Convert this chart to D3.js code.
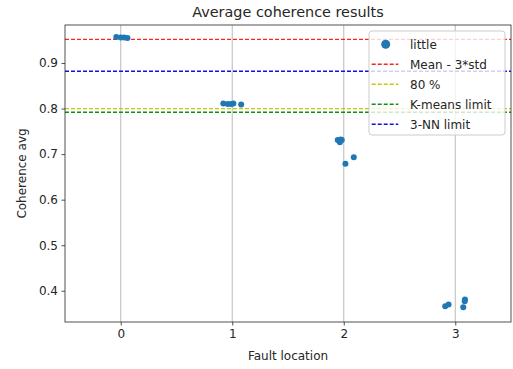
<!DOCTYPE html>
<html>
<head>
<meta charset="utf-8">
<script src="https://cdn.jsdelivr.net/npm/d3@7"></script>
<style>
  body { margin: 0; background: #fff; }
  text { font-family: "DejaVu Sans", sans-serif; fill: #262626; }
</style>
</head>
<body>
<div id="chart"></div>
<script>
// strip plot of average coherence per fault location

const faultLocations = [0, 1, 2, 3];
const yTicks = [0.4, 0.5, 0.6, 0.7, 0.8, 0.9];

// jittered x position (in fault-location units) and coherence of each sample
const sampleX = [-0.04, 0.0, 0.03, 0.06,
                 0.92, 0.96, 0.99, 1.01, 1.08,
                 1.946, 1.973, 1.982, 1.965, 2.015, 2.09,
                 2.91, 2.94, 3.072, 3.087, 3.085];
const coherence = [0.957, 0.956, 0.956, 0.955,
                   0.811, 0.810, 0.810, 0.811, 0.809,
                   0.731, 0.732, 0.731, 0.726, 0.679, 0.693,
                   0.366, 0.370, 0.364, 0.381, 0.377];

const limitNames = ["Mean - 3*std", "80 %", "K-means limit", "3-NN limit"];
const limitValues = [0.952, 0.80, 0.792, 0.882];
const limitColors = ["#ff2020", "#c8c800", "#109010", "#1010e0"];

const width = 513, height = 369;
const margin = { top: 25, right: 2, bottom: 47, left: 65 };
const w = width - margin.left - margin.right;
const h = height - margin.top - margin.bottom;

const svg = d3.select("#chart").append("svg")
    .attr("width", width)
    .attr("height", height);

const g = svg.append("g")
    .attr("transform", `translate(${margin.left}, ${margin.top})`);

const x = d3.scaleLinear().domain([-0.5, 3.5]).range([0, w]);
const y = d3.scaleLinear().domain([0.3314, 0.9835]).range([h, 0]);

// vertical grid
g.selectAll(".grid")
    .data(faultLocations)
    .join("line")
    .attr("class", "grid")
    .attr("x1", d => x(d)).attr("x2", d => x(d))
    .attr("y1", 0).attr("y2", h)
    .attr("stroke", "#c0c0c0")
    .attr("stroke-width", 1.1);

// limit lines
g.selectAll(".limit")
    .data(limitValues)
    .join("line")
    .attr("class", "limit")
    .attr("x1", 0).attr("x2", w)
    .attr("y1", d => y(d)).attr("y2", d => y(d))
    .attr("stroke", (d, i) => limitColors[i])
    .attr("stroke-width", 1.4)
    .attr("stroke-dasharray", "4,2");

// samples
g.selectAll(".dot")
    .data(coherence)
    .join("circle")
    .attr("class", "dot")
    .attr("cx", (d, i) => x(sampleX[i]))
    .attr("cy", d => y(d))
    .attr("r", 3)
    .attr("fill", "#1f77b4");

// axes
const xAxis = g.append("g")
    .attr("transform", `translate(0, ${h})`)
    .call(d3.axisBottom(x).tickValues(faultLocations).tickFormat(d3.format("d")).tickSize(3.5).tickPadding(3.5));
const yAxis = g.append("g")
    .call(d3.axisLeft(y).tickValues(yTicks).tickFormat(d3.format(".1f")).tickSize(3.5).tickPadding(3.5));

[xAxis, yAxis].forEach(a => {
    a.select(".domain").remove();
    a.selectAll("text").style("font-size", "12px").attr("fill", "#262626");
    a.selectAll("line").attr("stroke", "#262626").attr("stroke-width", 0.8);
});

g.append("rect")
    .attr("width", w).attr("height", h)
    .attr("fill", "none")
    .attr("stroke", "#262626")
    .attr("stroke-width", 0.8);

// titles
svg.append("text")
    .attr("x", margin.left + w / 2).attr("y", 17)
    .attr("text-anchor", "middle")
    .style("font-size", "14.4px")
    .text("Average coherence results");

svg.append("text")
    .attr("x", margin.left + w / 2).attr("y", 360)
    .attr("text-anchor", "middle")
    .style("font-size", "12px")
    .text("Fault location");

svg.append("text")
    .attr("transform", `translate(26, ${margin.top + h / 2}) rotate(-90)`)
    .attr("text-anchor", "middle")
    .style("font-size", "12px")
    .text("Coherence avg");

// legend
const legend = svg.append("g").attr("transform", "translate(369, 31)");
legend.append("rect")
    .attr("width", 136).attr("height", 104)
    .attr("rx", 3)
    .attr("fill", "#fff").attr("fill-opacity", 0.8)
    .attr("stroke", "#cccccc").attr("stroke-width", 1);

const rows = legend.selectAll(".row")
    .data(["little"].concat(limitNames))
    .join("g")
    .attr("class", "row")
    .attr("transform", (d, i) => `translate(0, ${13.3 + i * 20})`);

rows.filter((d, i) => i === 0).append("circle")
    .attr("cx", 16.7).attr("r", 4.5).attr("fill", "#1f77b4");
rows.filter((d, i) => i > 0).append("line")
    .attr("x1", 2.7).attr("x2", 29.3)
    .attr("stroke", (d, i) => limitColors[i])
    .attr("stroke-width", 1.4)
    .attr("stroke-dasharray", "4,2");
rows.append("text")
    .attr("x", 41).attr("dy", "0.35em")
    .style("font-size", "12px")
    .text(d => d);
</script>
</body>
</html>
